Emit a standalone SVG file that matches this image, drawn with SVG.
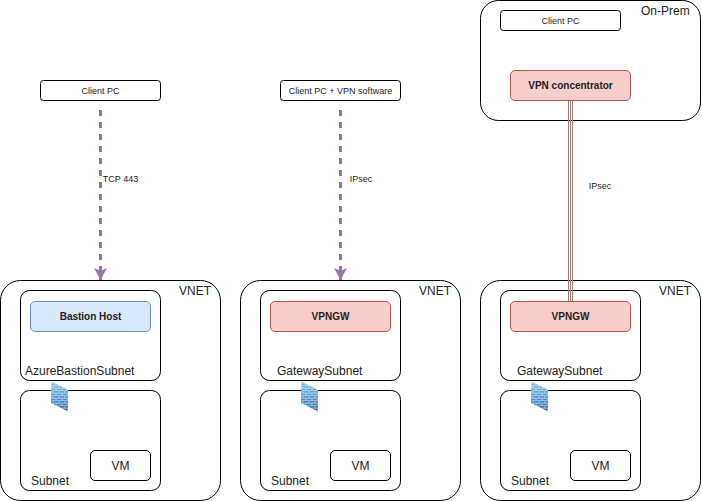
<svg xmlns="http://www.w3.org/2000/svg" width="702" height="501" viewBox="0 0 702 501">
<style>
text{font-family:"Liberation Sans",Arial,sans-serif;fill:#222}
.box{fill:#fff;stroke:#000;stroke-width:1}
.t12{font-size:12px}
.s{font-size:9px;text-anchor:middle}
.b{font-size:10px;font-weight:bold;text-anchor:middle}
.m{text-anchor:middle}
.red{fill:#f8cecc;stroke:#b85450}
.blue{fill:#dae8fc;stroke:#6c8ebf}
.dash{fill:none;stroke:#9673a6;stroke-width:3;stroke-dasharray:6 6}
</style>
<defs>
<marker id="arr" markerUnits="userSpaceOnUse" markerWidth="14" markerHeight="14" refX="12" refY="6.5" orient="auto"><path d="M0 0L12 6.5L0 13L3 6.5Z" fill="#9673a6"/></marker>
<linearGradient id="fwg" x1="0" y1="0" x2="0" y2="1"><stop offset="0" stop-color="#7fc0e6"/><stop offset="1" stop-color="#2a6fb0"/></linearGradient>
<pattern id="brick" width="6" height="5" patternUnits="userSpaceOnUse"><path d="M0 2.2H6M0 4.7H6M2 0V2.2M5 2.2V4.7" stroke="#fff" stroke-opacity=".6" stroke-width=".8" fill="none"/></pattern>
<g id="fw"><path d="M0.5 0.5L17 9V30.5L0 22Z" fill="url(#fwg)"/><path d="M0.5 0.5L17 9V30.5L0 22Z" fill="url(#brick)"/></g>
</defs>

<g id="vnet1"><rect class="box" x="0.5" y="280.5" width="220" height="220" rx="20"/><text class="t12" x="179" y="295">VNET</text></g>
<g id="subnet1a"><rect class="box" x="20.5" y="290.5" width="140" height="90" rx="9"/><text class="t12" x="25" y="375">AzureBastionSubnet</text></g>
<g id="subnet1b"><rect class="box" x="20.5" y="390.5" width="140" height="100" rx="9"/><text class="t12" x="31" y="485">Subnet</text></g>
<g id="bastion"><rect class="blue" x="30.5" y="301.5" width="120" height="30" rx="4.5"/><text class="b" x="90.5" y="320">Bastion Host</text></g>
<g id="vm1"><rect class="box" x="90.5" y="450.5" width="60" height="30" rx="4.5"/><text class="t12 m" x="120.5" y="470">VM</text></g>
<use id="fw1" href="#fw" x="51" y="381"/>
<g id="client1"><rect class="box" x="40.5" y="80.5" width="120" height="20" rx="3"/><text class="s" x="100.5" y="94">Client PC</text></g>

<g id="vnet2"><rect class="box" x="240.5" y="280.5" width="220" height="220" rx="20"/><text class="t12" x="419" y="295">VNET</text></g>
<g id="subnet2a"><rect class="box" x="260.5" y="290.5" width="140" height="90" rx="9"/><text class="t12" x="277" y="375">GatewaySubnet</text></g>
<g id="subnet2b"><rect class="box" x="260.5" y="390.5" width="140" height="100" rx="9"/><text class="t12" x="271" y="485">Subnet</text></g>
<g id="vpngw2"><rect class="red" x="270.5" y="301.5" width="120" height="30" rx="4.5"/><text class="b" x="330.5" y="320">VPNGW</text></g>
<g id="vm2"><rect class="box" x="330.5" y="450.5" width="60" height="30" rx="4.5"/><text class="t12 m" x="360.5" y="470">VM</text></g>
<use id="fw2" href="#fw" x="301" y="381"/>
<g id="client2"><rect class="box" x="280.5" y="80.5" width="120" height="20" rx="3"/><text class="s" x="340.5" y="94">Client PC + VPN software</text></g>

<g id="onprem"><rect class="box" x="480.5" y="0.5" width="220" height="120" rx="18"/><text class="t12" x="641" y="15">On-Prem</text></g>
<g id="client3"><rect class="box" x="500.5" y="10.5" width="120" height="20" rx="3"/><text class="s" x="560.5" y="24">Client PC</text></g>
<g id="vnet3"><rect class="box" x="480.5" y="280.5" width="220" height="220" rx="20"/><text class="t12" x="659" y="295">VNET</text></g>
<g id="subnet3a"><rect class="box" x="500.5" y="290.5" width="140" height="90" rx="9"/><text class="t12" x="517" y="375">GatewaySubnet</text></g>
<g id="subnet3b"><rect class="box" x="500.5" y="390.5" width="140" height="100" rx="9"/><text class="t12" x="511" y="485">Subnet</text></g>
<g id="vm3"><rect class="box" x="570.5" y="450.5" width="60" height="30" rx="4.5"/><text class="t12 m" x="600.5" y="470">VM</text></g>
<use id="fw3" href="#fw" x="531" y="381"/>

<g id="connectors">
<path class="dash" d="M100.5 110V280" marker-end="url(#arr)"/>
<path class="dash" d="M340.5 110V280" marker-end="url(#arr)"/>
<path d="M568.5 100V301M570.5 100V301M572.5 100V301" fill="none" stroke="#a07a76" stroke-width="1"/>
</g>
<g id="labels">
<text class="s" x="120.5" y="182">TCP 443</text>
<text class="s" x="361" y="182">IPsec</text>
<text class="s" x="600" y="189">IPsec</text>
</g>
<g id="vpnconc"><rect class="red" x="510.5" y="70.5" width="120" height="30" rx="4.5"/><text class="b" x="570.5" y="89">VPN concentrator</text></g>
<g id="vpngw3"><rect class="red" x="510.5" y="301.5" width="120" height="30" rx="4.5"/><text class="b" x="570.5" y="320">VPNGW</text></g>
</svg>
